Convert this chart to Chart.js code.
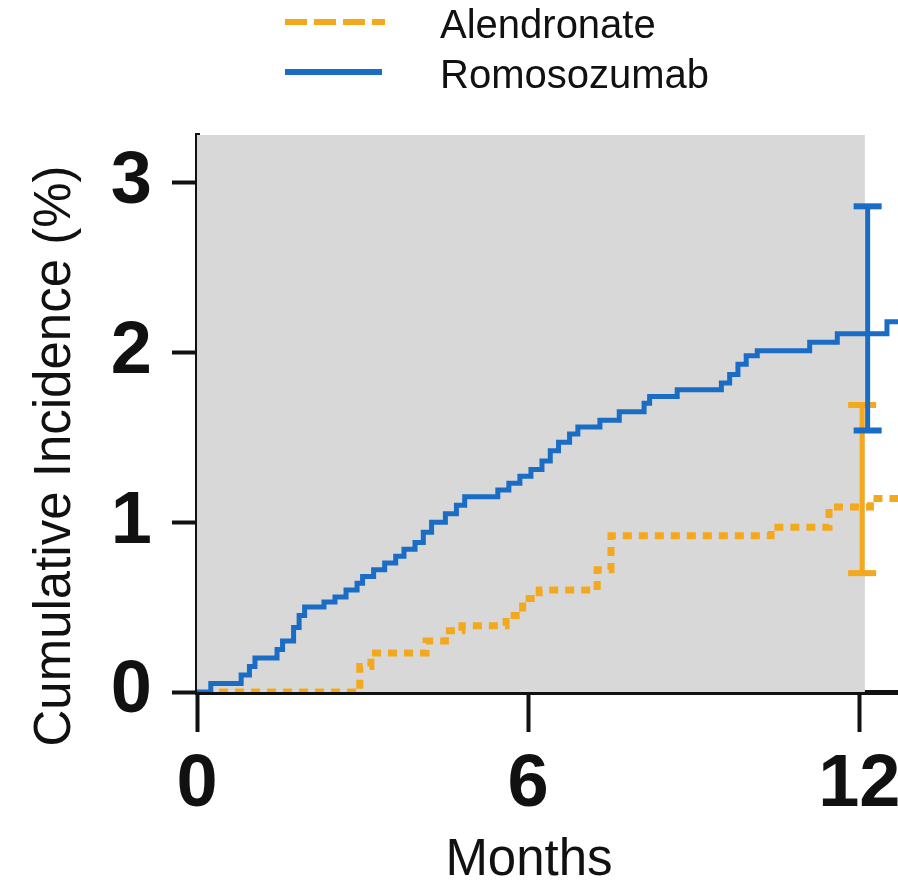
<!DOCTYPE html>
<html lang="en">
<head>
  <meta charset="UTF-8" />
  <title>Cumulative Incidence</title>
  <script src="https://cdn.jsdelivr.net/npm/chart.js"></script>
  <style>
    html, body { margin: 0; padding: 0; background: #fff; }
    canvas { display: block; }
  </style>
</head>
<body>
  <canvas id="chart" width="898" height="886"></canvas>

  <script>
    // values
    const xTicks = [0, 6, 12];
    const yTicks = [0, 1, 2, 3];

    const romoMonths = [0, 0.25, 0.8, 0.95, 1.05, 1.45, 1.55, 1.75, 1.85, 1.95, 2.3, 2.5, 2.7, 2.9, 3.0, 3.2, 3.4, 3.6, 3.75, 3.95, 4.1, 4.25, 4.5, 4.7, 4.85, 5.45, 5.65, 5.85, 6.05, 6.25, 6.4, 6.55, 6.75, 6.9, 7.3, 7.65, 8.1, 8.2, 8.7, 9.5, 9.65, 9.8, 9.95, 10.15, 11.1, 11.6, 12.5, 12.8];
    const romoIncidence = [0, 0.05, 0.1, 0.15, 0.2, 0.25, 0.3, 0.38, 0.45, 0.5, 0.53, 0.56, 0.6, 0.64, 0.68, 0.72, 0.76, 0.8, 0.84, 0.88, 0.94, 1.0, 1.05, 1.1, 1.15, 1.19, 1.23, 1.27, 1.31, 1.36, 1.42, 1.47, 1.52, 1.56, 1.6, 1.65, 1.7, 1.74, 1.78, 1.82, 1.87, 1.93, 1.98, 2.01, 2.06, 2.11, 2.18, 2.18];

    const alenMonths = [0.4, 2.95, 3.15, 4.15, 4.5, 4.8, 5.6, 5.9, 6.2, 7.25, 7.5, 10.4, 11.45, 12.2, 12.8];
    const alenIncidence = [0, 0.15, 0.23, 0.3, 0.36, 0.39, 0.45, 0.55, 0.6, 0.72, 0.92, 0.97, 1.09, 1.14, 1.14];

    // 95% CI at 12 months
    const romoCI = [2.86, 1.54];
    const alenCI = [1.69, 0.70];

    const shadedUntil = 12.1;

    const BLUE = '#1a6cc4';
    const ORANGE = '#f4a81d';
    const INK = '#111';

    const toPoints = (xs, ys) => xs.map((x, i) => ({ x: x, y: ys[i] }));

    // grey background for the 0-12 month window
    const shadePlugin = {
      id: 'shade',
      beforeDatasetsDraw(chart) {
        const { ctx, chartArea, scales } = chart;
        const x0 = scales.x.getPixelForValue(0);
        const x1 = scales.x.getPixelForValue(shadedUntil);
        ctx.save();
        ctx.fillStyle = '#d8d8d8';
        ctx.fillRect(x0, chartArea.top, x1 - x0, chartArea.bottom - chartArea.top);
        ctx.restore();
      }
    };

    // legend and axis titles placed like the figure
    const textPlugin = {
      id: 'texts',
      afterDraw(chart) {
        const ctx = chart.ctx;
        ctx.save();

        // legend
        ctx.lineCap = 'butt';
        ctx.lineWidth = 6;
        ctx.strokeStyle = ORANGE;
        ctx.setLineDash([22, 7]);
        ctx.beginPath();
        ctx.moveTo(285, 22);
        ctx.lineTo(385, 22);
        ctx.stroke();
        ctx.setLineDash([]);
        ctx.strokeStyle = BLUE;
        ctx.beginPath();
        ctx.moveTo(285, 72);
        ctx.lineTo(382, 72);
        ctx.stroke();

        ctx.fillStyle = INK;
        ctx.font = '40px "Liberation Sans", Arial, sans-serif';
        ctx.textAlign = 'left';
        ctx.textBaseline = 'middle';
        ctx.fillText('Alendronate', 440, 27);
        ctx.fillText('Romosozumab', 440, 77);

        // axis titles
        ctx.font = '51px "Liberation Sans", Arial, sans-serif';
        ctx.textAlign = 'center';
        ctx.fillText('Months', 529, 861);

        ctx.translate(56, 456);
        ctx.rotate(-Math.PI / 2);
        ctx.fillText('Cumulative Incidence (%)', 0, 0);
        ctx.restore();
      }
    };

    new Chart(document.getElementById('chart'), {
      type: 'line',
      data: {
        datasets: [
          {
            label: 'Romosozumab CI',
            data: toPoints([12.15, 12.15], romoCI),
            borderColor: BLUE,
            borderWidth: 5,
            pointStyle: 'line',
            pointRadius: 14,
            pointBorderWidth: 6,
            pointBorderColor: BLUE
          },
          {
            label: 'Alendronate CI',
            data: toPoints([12.05, 12.05], alenCI),
            borderColor: ORANGE,
            borderWidth: 5,
            pointStyle: 'line',
            pointRadius: 14,
            pointBorderWidth: 6,
            pointBorderColor: ORANGE
          },
          {
            label: 'Romosozumab',
            data: toPoints(romoMonths, romoIncidence),
            borderColor: BLUE,
            borderWidth: 5,
            stepped: true,
            pointRadius: 0
          },
          {
            label: 'Alendronate',
            data: toPoints(alenMonths, alenIncidence),
            borderColor: ORANGE,
            borderWidth: 7,
            borderDash: [9, 7],
            stepped: true,
            pointRadius: 0
          }
        ]
      },
      options: {
        responsive: false,
        animation: false,
        events: [],
        layout: { autoPadding: false, padding: { top: 135, left: 0, right: 0, bottom: 0 } },
        plugins: {
          legend: { display: false },
          tooltip: { enabled: false }
        },
        scales: {
          x: {
            type: 'linear',
            min: 0,
            max: 12.7,
            afterBuildTicks: (scale) => { scale.ticks = xTicks.map(v => ({ value: v })); },
            afterFit: (scale) => {
              scale.height = 194;
              scale.paddingLeft = 0;
              scale.paddingRight = 0;
            },
            ticks: {
              color: INK,
              padding: 9,
              maxRotation: 0,
              font: { family: '"Liberation Sans", Arial, sans-serif', size: 74, weight: 'bold' }
            },
            grid: { drawOnChartArea: false, tickLength: 40, tickWidth: 4, tickColor: INK },
            border: { width: 5, color: INK }
          },
          y: {
            min: 0,
            max: 3.28,
            afterBuildTicks: (scale) => { scale.ticks = yTicks.map(v => ({ value: v })); },
            afterFit: (scale) => {
              scale.width = 197;
              scale.paddingTop = 0;
              scale.paddingBottom = 0;
            },
            ticks: {
              color: INK,
              padding: 20,
              font: { family: '"Liberation Sans", Arial, sans-serif', size: 74, weight: 'bold' }
            },
            grid: { drawOnChartArea: false, tickLength: 25, tickWidth: 4, tickColor: INK },
            border: { width: 5, color: INK }
          }
        }
      },
      plugins: [shadePlugin, textPlugin]
    });
  </script>
</body>
</html>
